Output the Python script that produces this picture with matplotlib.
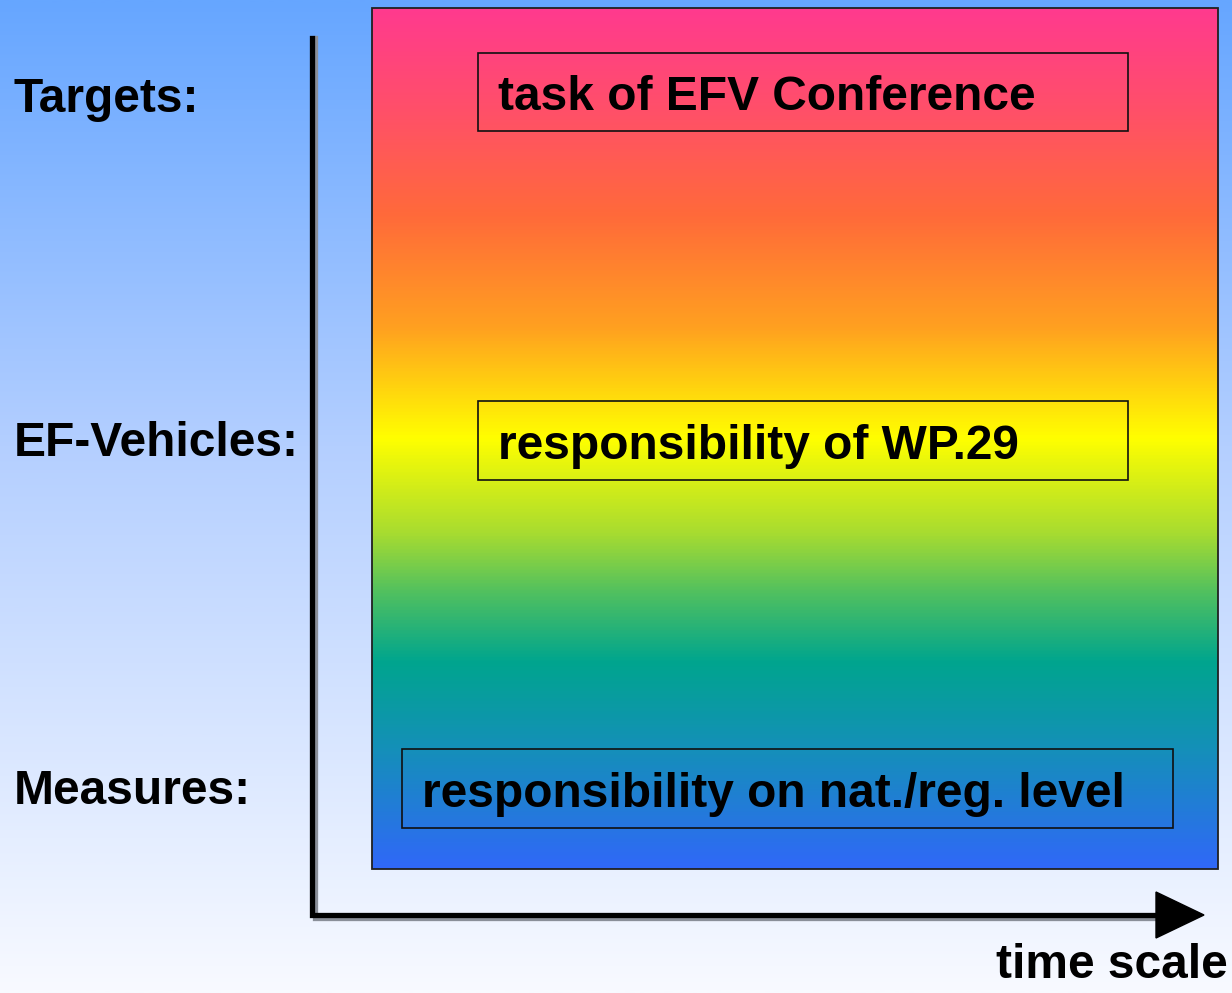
import numpy as np
import matplotlib.pyplot as plt
from matplotlib.colors import LinearSegmentedColormap
from matplotlib.patches import Rectangle, Polygon

plt.rcParams['font.family'] = ['Liberation Sans', 'DejaVu Sans']

# row labels on the left and their vertical positions (pixels)
row_labels = ["Targets:", "EF-Vehicles:", "Measures:"]
row_y = [95, 440, 787]

# boxes inside the coloured panel: text, left, top, right, bottom
box_texts = ["task of EFV Conference", "responsibility of WP.29",
             "responsibility on nat./reg. level"]
box_left = [478, 478, 402]
box_right = [1128, 1128, 1173]
box_top = [53, 401, 749]
box_bottom = [131, 480, 828]

axis_label = "time scale"

# panel gradient stops (fraction from top, colour)
panel_stops = [(0.00, "#ff3a8e"), (0.12, "#ff5068"), (0.24, "#ff6a3a"),
               (0.37, "#ffa020"), (0.50, "#ffff00"), (0.61, "#a8dc30"),
               (0.68, "#50c060"), (0.76, "#00a58e"), (0.86, "#1490b8"),
               (1.00, "#3068f8")]
bg_stops = [(0.0, "#66a6ff"), (0.45, "#b4cfff"), (1.0, "#f8faff")]

W, H = 1232, 993
fig = plt.figure(figsize=(W / 100, H / 100), dpi=100)
ax = fig.add_axes([0, 0, 1, 1])
ax.set_xlim(0, W)
ax.set_ylim(H, 0)
ax.axis("off")

grad = np.linspace(0, 1, 512).reshape(-1, 1)
bg_cmap = LinearSegmentedColormap.from_list("bg", bg_stops)
ax.imshow(grad, cmap=bg_cmap, aspect="auto", extent=(0, W, H, 0), zorder=0)

px0, px1, py0, py1 = 372, 1218, 8, 869
panel_cmap = LinearSegmentedColormap.from_list("panel", panel_stops)
ax.imshow(grad, cmap=panel_cmap, aspect="auto", extent=(px0, px1, py1, py0), zorder=1)
ax.add_patch(Rectangle((px0, py0), px1 - px0, py1 - py0, fill=False,
                       ec="#202020", lw=1.3, zorder=2))

fs = 34.5
for t, l, r, tp, b in zip(box_texts, box_left, box_right, box_top, box_bottom):
    ax.add_patch(Rectangle((l, tp), r - l, b - tp, fill=False, ec="#101010",
                           lw=1.2, zorder=3))
    ax.text(l + 20, (tp + b) / 2 + 6, t, fontsize=fs, fontweight="bold",
            ha="left", va="center", color="black", zorder=4)

for lab, y in zip(row_labels, row_y):
    ax.text(14, y + 4, lab, fontsize=fs, fontweight="bold", ha="left",
            va="center", color="black", zorder=4)

# axes: shadow then line
for off, col in [(3, "#8a8f99"), (0, "black")]:
    ax.plot([312 + off, 312 + off, 1160], [38, 915 + off, 915 + off],
            color=col, lw=3.8, solid_joinstyle="miter", zorder=5)
ax.add_patch(Polygon([(1156, 892), (1204, 915), (1156, 938)], closed=True,
                     fc="black", ec="black", zorder=6))

ax.text(1228, 966, axis_label, fontsize=fs, fontweight="bold", ha="right",
        va="center", color="black", zorder=4)

fig.savefig("out.png", dpi=100)
